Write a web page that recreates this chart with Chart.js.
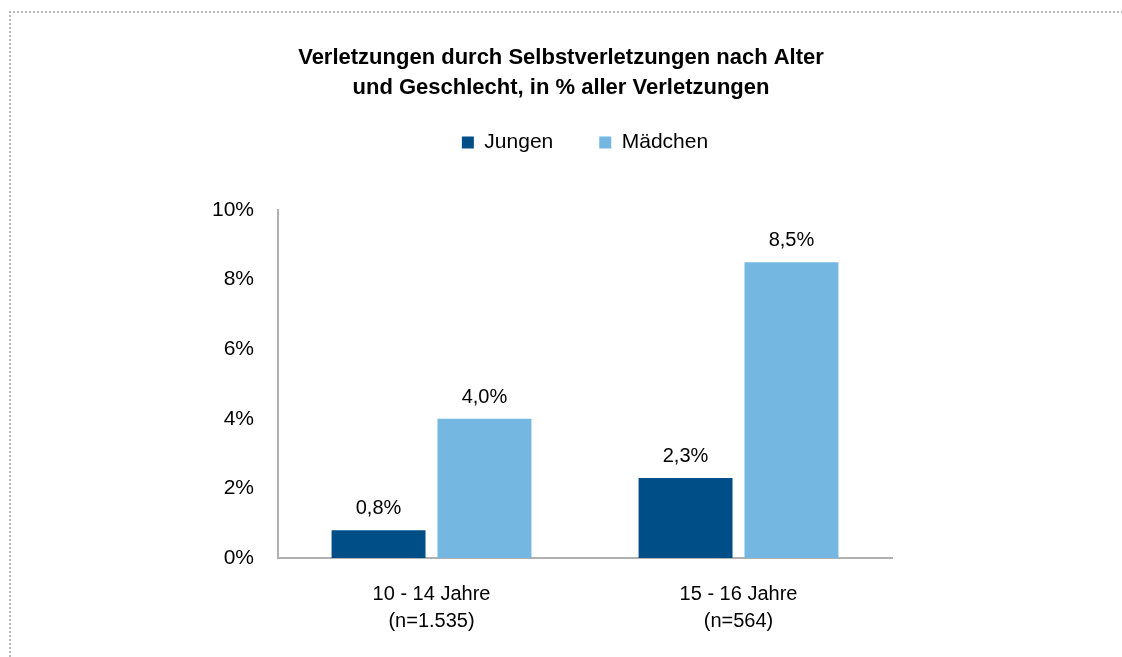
<!DOCTYPE html>
<html>
<head>
<meta charset="utf-8">
<script src="https://cdn.jsdelivr.net/npm/chart.js@4"></script>
<style>
  html, body { margin: 0; padding: 0; background: #fff; }
  #wrap { position: relative; width: 1122px; height: 657px; overflow: hidden; }
  #frame { position: absolute; left: 9px; top: 11px; width: 1200px; height: 700px;
           border-left: 2px dotted #b8b8b8; border-top: 2px dotted #b8b8b8; }
  #myChart { position: absolute; left: 0; top: 0; }
</style>
</head>
<body>
<div id="wrap">
  <div id="frame"></div>
  <canvas id="myChart" width="1122" height="657"></canvas>
</div>
<script>
// daten
const ageGroups = ['10 - 14 Jahre', '15 - 16 Jahre'];
const sampleSizes = ['(n=1.535)', '(n=564)'];
const seriesNames = ['Jungen', 'Mädchen'];
const jungen = [0.8, 2.3];
const maedchen = [4.0, 8.5];
const yTicks = [0, 2, 4, 6, 8, 10];

window.addEventListener("load", zeichnen)
function zeichnen(){
  const schrift = "'Liberation Sans', Arial, sans-serif";

  // Werte ueber den Balken
  const wertLabels = {
    id: 'wertLabels',
    afterDatasetsDraw(chart) {
      const ctx = chart.ctx;
      ctx.save();
      ctx.font = '20px ' + schrift;
      ctx.fillStyle = '#000';
      ctx.textAlign = 'center';
      ctx.textBaseline = 'alphabetic';
      chart.data.datasets.forEach((ds, i) => {
        chart.getDatasetMeta(i).data.forEach((bar, j) => {
          const txt = ds.data[j].toFixed(1).replace('.', ',') + '%';
          ctx.fillText(txt, bar.x, bar.y - 16);
        });
      });
      ctx.restore();
    }
  };

  const data = {
    labels: ageGroups.map((a, i) => [a, sampleSizes[i]]),
    datasets: [
      {
        label: seriesNames[0],
        backgroundColor: '#004e87',
        data: jungen,
        categoryPercentage: 0.69,
        barPercentage: 0.887
      },
      {
        label: seriesNames[1],
        backgroundColor: '#74b7e1',
        data: maedchen,
        categoryPercentage: 0.69,
        barPercentage: 0.887
      }
    ]
  };

  const config = {
    type: 'bar',
    data: data,
    options: {
      responsive: false,
      animation: false,
      layout: { padding: 0 },
      plugins: {
        title: {
          display: true,
          text: ['Verletzungen durch Selbstverletzungen nach Alter', 'und Geschlecht, in % aller Verletzungen'],
          color: '#000',
          font: { family: schrift, size: 22, weight: 'bold', lineHeight: '30px' },
          padding: { top: 43, bottom: -17 }
        },
        legend: {
          display: true,
          fullSize: false,
          labels: {
            color: '#000',
            boxWidth: 12,
            boxHeight: 12,
            padding: 46,
            font: { family: schrift, size: 21 }
          }
        },
        subtitle: {
          // nur Abstand zwischen Legende und Diagramm
          display: true,
          fullSize: false,
          text: '',
          weight: 500,
          font: { size: 10, lineHeight: 1 },
          padding: { top: 37, bottom: 0 }
        },
        tooltip: { enabled: false }
      },
      scales: {
        x: {
          grid: { display: false, drawTicks: false },
          border: { display: true, color: '#b0b0b0', width: 2 },
          ticks: { color: '#000', padding: 23, font: { family: schrift, size: 20, lineHeight: 1.35 }, maxRotation: 0 },
          afterFit(scale) { scale.height = 99; }
        },
        y: {
          min: 0,
          max: 10,
          grid: { display: false, drawTicks: false },
          border: { display: true, color: '#b0b0b0', width: 2 },
          afterBuildTicks(scale) { scale.ticks = yTicks.map(v => ({ value: v })); },
          ticks: {
            color: '#000',
            padding: 24,
            font: { family: schrift, size: 21 },
            callback: v => v + '%'
          },
          afterFit(scale) { scale.width = 278; }
        },
        rechts: {
          // leerer Rand rechts
          type: 'linear',
          position: 'right',
          display: true,
          grid: { display: false, drawTicks: false },
          border: { display: false },
          ticks: { display: false },
          afterFit(scale) { scale.width = 230; }
        }
      }
    },
    plugins: [wertLabels]
  };

  const myChart = new Chart(document.getElementById('myChart'), config);
}
</script>
</body>
</html>
